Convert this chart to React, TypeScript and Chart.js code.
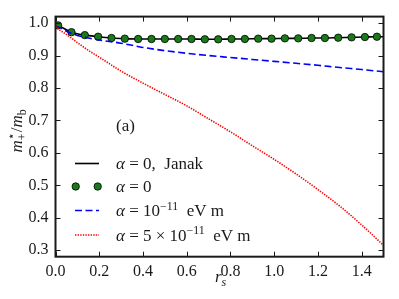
import React, { useEffect, useRef } from 'react';
import { Chart, registerables } from 'chart.js';

Chart.register(...registerables);

// ---- data ----
const greenR = [0.012, 0.073, 0.134, 0.195, 0.256, 0.317, 0.378, 0.439, 0.500, 0.561, 0.622, 0.683, 0.744, 0.805, 0.866, 0.927, 0.988, 1.049, 1.110, 1.171, 1.232, 1.293, 1.354, 1.415, 1.470];
const greenM = [0.993, 0.972, 0.963, 0.958, 0.954, 0.952, 0.951, 0.951, 0.951, 0.951, 0.951, 0.950, 0.950, 0.951, 0.951, 0.952, 0.952, 0.953, 0.953, 0.954, 0.954, 0.955, 0.956, 0.957, 0.958];
const janakR = [0.0, 0.012, 0.073, 0.134, 0.195, 0.256, 0.317, 0.378, 0.439, 0.500, 0.561, 0.622, 0.683, 0.744, 0.805, 0.866, 0.927, 0.988, 1.049, 1.110, 1.171, 1.232, 1.293, 1.354, 1.415, 1.470, 1.5];
const janakM = [0.996, 0.993, 0.972, 0.963, 0.958, 0.954, 0.952, 0.951, 0.951, 0.951, 0.951, 0.951, 0.950, 0.950, 0.951, 0.951, 0.952, 0.952, 0.953, 0.953, 0.954, 0.954, 0.955, 0.956, 0.957, 0.958, 0.958];
const blueR = [0, 0.02, 0.05, 0.1, 0.15, 0.2, 0.3, 0.4, 0.5, 0.6, 0.7, 0.8, 0.9, 1.0, 1.1, 1.2, 1.3, 1.4, 1.5];
const blueM = [0.990, 0.986, 0.975, 0.962, 0.954, 0.948, 0.938, 0.925, 0.915, 0.907, 0.900, 0.894, 0.888, 0.882, 0.876, 0.870, 0.863, 0.857, 0.850];
const redR = [0, 0.02, 0.05, 0.1, 0.15, 0.2, 0.3, 0.4, 0.5, 0.6, 0.7, 0.8, 0.9, 1.0, 1.1, 1.2, 1.3, 1.4, 1.5];
const redM = [0.990, 0.978, 0.965, 0.940, 0.916, 0.895, 0.852, 0.815, 0.780, 0.745, 0.705, 0.665, 0.622, 0.580, 0.535, 0.487, 0.436, 0.378, 0.315];

const xTicks = [0.0, 0.2, 0.4, 0.6, 0.8, 1.0, 1.2, 1.4];
const yTicks = [0.3, 0.4, 0.5, 0.6, 0.7, 0.8, 0.9, 1.0];

type Seg = { t: string; it?: boolean; sub?: boolean; sup?: boolean; stay?: boolean };

const legendItems: { kind: string; segs: Seg[] }[] = [
  { kind: 'janak', segs: [{ t: 'α', it: true }, { t: ' = 0,  Janak' }] },
  { kind: 'dots', segs: [{ t: 'α', it: true }, { t: ' = 0' }] },
  { kind: 'blue', segs: [{ t: 'α', it: true }, { t: ' = 10' }, { t: '−11', sup: true }, { t: '  eV m' }] },
  { kind: 'red', segs: [{ t: 'α', it: true }, { t: ' = 5 × 10' }, { t: '−11', sup: true }, { t: '  eV m' }] },
];
const panelLabel = '(a)';
const xTitle: Seg[] = [{ t: 'r', it: true }, { t: 's', it: true, sub: true }];
const yTitle: Seg[] = [{ t: 'm', it: true }, { t: '⋆', sup: true, stay: true }, { t: '+', sub: true }, { t: '/' }, { t: 'm', it: true }, { t: 'b', sub: true }];

const FAM = '"Liberation Serif", serif';
const TXT = '#1a1a1a';
const BLUE = '#0000ff';
const RED = '#ff0000';
const GREEN = '#1a7a1a';
const BLUE_DASH = [7, 3.5];
const RED_DASH = [1.4, 1.2];

function segFont(s: Seg, size: number) {
  const sz = s.sub || s.sup ? size * 0.7 : size;
  return `${s.it ? 'italic ' : ''}${sz}px ${FAM}`;
}

function richWidth(ctx: CanvasRenderingContext2D, segs: Seg[], size: number) {
  let w = 0;
  let pend = 0;
  for (const s of segs) {
    ctx.font = segFont(s, size);
    const sw = ctx.measureText(s.t).width;
    if (s.stay) { pend = Math.max(pend, sw); continue; }
    w += Math.max(pend, sw);
    pend = 0;
  }
  return w + pend;
}

function drawRich(ctx: CanvasRenderingContext2D, x: number, y: number, segs: Seg[], size: number, center: boolean) {
  let cx = center ? x - richWidth(ctx, segs, size) / 2 : x;
  let pend = 0;
  ctx.textBaseline = 'alphabetic';
  ctx.textAlign = 'left';
  for (const s of segs) {
    ctx.font = segFont(s, size);
    const sw = ctx.measureText(s.t).width;
    const dy = s.sup ? -size * 0.38 : s.sub ? size * 0.25 : 0;
    ctx.fillText(s.t, cx, y + dy);
    if (s.stay) { pend = Math.max(pend, sw); continue; }
    cx += Math.max(pend, sw);
    pend = 0;
  }
}

const overlay = {
  id: 'overlay',
  afterDraw(chart: any) {
    const { ctx, chartArea: a, scales } = chart;
    const xs = scales.x;
    const ys = scales.y;
    ctx.save();
    ctx.strokeStyle = TXT;
    ctx.lineWidth = 1;
    const L = 5;
    ctx.beginPath();
    for (const v of xTicks) {
      const px = Math.round(xs.getPixelForValue(v)) + 0.5;
      ctx.moveTo(px, a.bottom); ctx.lineTo(px, a.bottom - L);
      ctx.moveTo(px, a.top); ctx.lineTo(px, a.top + L);
    }
    for (const v of yTicks) {
      const py = Math.round(ys.getPixelForValue(v)) + 0.5;
      ctx.moveTo(a.left, py); ctx.lineTo(a.left + L, py);
      ctx.moveTo(a.right, py); ctx.lineTo(a.right - L, py);
    }
    ctx.stroke();
    ctx.lineWidth = 2;
    ctx.strokeRect(a.left, a.top, a.right - a.left, a.bottom - a.top);

    ctx.fillStyle = TXT;
    // panel label
    ctx.font = `17px ${FAM}`;
    ctx.textAlign = 'left';
    ctx.textBaseline = 'alphabetic';
    ctx.fillText(panelLabel, 116, 131);

    // legend
    const rows = [163.5, 186.5, 210.5, 235];
    const x0 = 75, x1 = 99, tx = 116;
    legendItems.forEach((it, i) => {
      const y = rows[i];
      ctx.save();
      if (it.kind === 'janak') {
        ctx.strokeStyle = '#000'; ctx.lineWidth = 1.6; ctx.setLineDash([]);
        ctx.beginPath(); ctx.moveTo(x0, y); ctx.lineTo(x1, y); ctx.stroke();
      } else if (it.kind === 'dots') {
        ctx.fillStyle = GREEN; ctx.strokeStyle = '#000'; ctx.lineWidth = 0.8;
        for (const cx of [75.7, 97.7]) {
          ctx.beginPath(); ctx.arc(cx, y, 3.7, 0, Math.PI * 2); ctx.fill(); ctx.stroke();
        }
      } else if (it.kind === 'blue') {
        ctx.strokeStyle = BLUE; ctx.lineWidth = 1.6; ctx.setLineDash(BLUE_DASH);
        ctx.beginPath(); ctx.moveTo(x0, y); ctx.lineTo(x1, y); ctx.stroke();
      } else {
        ctx.strokeStyle = RED; ctx.lineWidth = 1.6; ctx.setLineDash(RED_DASH);
        ctx.beginPath(); ctx.moveTo(x0, y); ctx.lineTo(x1, y); ctx.stroke();
      }
      ctx.restore();
      ctx.fillStyle = TXT;
      drawRich(ctx, tx, y + 5.5, it.segs, 17, false);
    });

    // axis titles
    drawRich(ctx, 215, 282, xTitle, 17, false);
    ctx.save();
    ctx.translate(21.5, 131);
    ctx.rotate(-Math.PI / 2);
    drawRich(ctx, 0, 0, yTitle, 17, true);
    ctx.restore();
    ctx.restore();
  },
};

export default function App() {
  const ref = useRef<HTMLCanvasElement>(null);
  useEffect(() => {
    if (!ref.current) return;
    const pts = (r: number[], m: number[]) => r.map((v, i) => ({ x: v, y: m[i] }));
    const chart = new Chart(ref.current, {
      type: 'line',
      data: {
        datasets: [
          {
            label: 'red', data: pts(redR, redM), borderColor: RED, borderWidth: 1.6,
            borderDash: RED_DASH, pointRadius: 0, cubicInterpolationMode: 'monotone', order: 0,
          } as any,
          {
            label: 'blue', data: pts(blueR, blueM), borderColor: BLUE, borderWidth: 1.6,
            borderDash: BLUE_DASH, pointRadius: 0, cubicInterpolationMode: 'monotone', order: 1,
          },
          {
            label: 'dots', data: pts(greenR, greenM), showLine: false, pointRadius: 3.7,
            pointBackgroundColor: GREEN, pointBorderColor: '#000', pointBorderWidth: 0.8, order: 2,
          },
          {
            label: 'janak', data: pts(janakR, janakM), borderColor: '#000', borderWidth: 1.6,
            pointRadius: 0, cubicInterpolationMode: 'monotone', order: 3,
          },
        ],
      },
      options: {
        responsive: false,
        animation: false,
        events: [],
        layout: { padding: { top: 12, right: 15.5, left: 0, bottom: 0 } },
        plugins: { legend: { display: false }, tooltip: { enabled: false } },
        scales: {
          x: {
            type: 'linear', min: 0, max: 1.5,
            grid: { display: false, drawTicks: false },
            border: { display: false },
            afterBuildTicks: (s: any) => { s.ticks = xTicks.map((v) => ({ value: v })); },
            afterFit: (s: any) => { s.height = 42.3; },
            ticks: {
              color: TXT, padding: 5, maxRotation: 0, autoSkip: false,
              font: { family: FAM, size: 16 },
              callback: (v: any) => Number(v).toFixed(1),
            },
          },
          y: {
            type: 'linear', min: 0.28, max: 1.02,
            grid: { display: false, drawTicks: false },
            border: { display: false },
            afterBuildTicks: (s: any) => { s.ticks = yTicks.map((v) => ({ value: v })); },
            afterFit: (s: any) => { s.width = 55.5; },
            ticks: {
              color: TXT, padding: 7, autoSkip: false,
              font: { family: FAM, size: 16 },
              callback: (v: any) => Number(v).toFixed(1),
            },
          },
        },
      },
      plugins: [overlay],
    });
    return () => chart.destroy();
  }, []);
  return (
    <div style={{ position: 'fixed', left: 0, top: 0, width: 399, height: 299, background: '#fff' }}>
      <canvas ref={ref} width={399} height={299} style={{ display: 'block' }} />
    </div>
  );
}
